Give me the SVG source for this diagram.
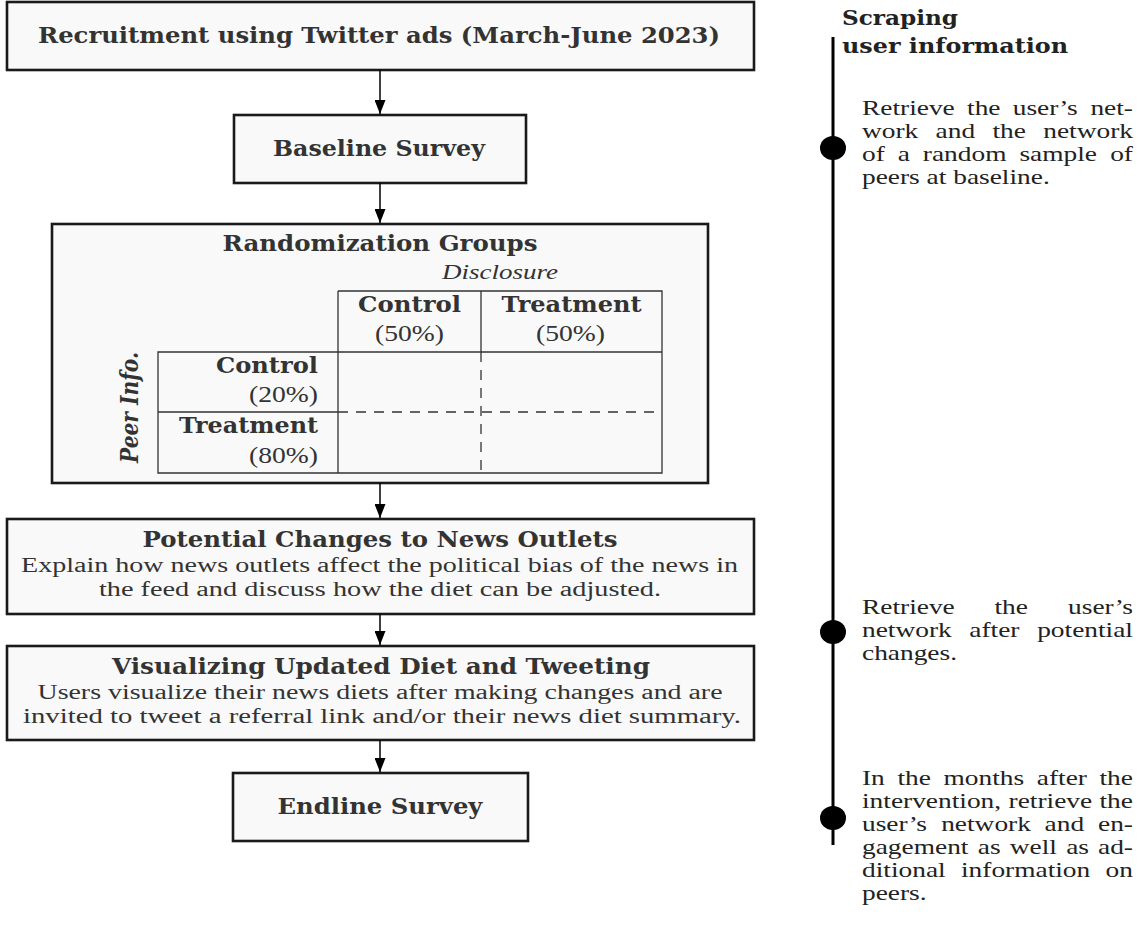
<svg xmlns="http://www.w3.org/2000/svg" width="1138" height="952" viewBox="0 0 1138 952">
<defs>
<marker id="arr" viewBox="0 -5.5 14 11" refX="14" refY="0" markerWidth="14" markerHeight="11" markerUnits="userSpaceOnUse" orient="auto">
<path d="M0,-5.5 L14,0 L0,5.5 z" fill="#000"/>
</marker>
<style>
.box{fill:#f9f9f9;stroke:#1a1a1a;stroke-width:2.6}
.bx{font-family:"DejaVu Serif",serif;font-weight:bold;font-size:22px;fill:#333}
.ttl{font-family:"DejaVu Serif",serif;font-weight:bold;font-size:22px;fill:#333}
.rm{font-family:"Liberation Serif",serif;font-size:20px;fill:#333}
.pc{font-family:"Liberation Serif",serif;font-size:23px;fill:#333}
.it{font-family:"Liberation Serif",serif;font-style:italic;font-size:20px;fill:#333}
.tl{fill:none;stroke:#333;stroke-width:1.3}
.ds{fill:none;stroke:#333;stroke-width:1.3;stroke-dasharray:10 8}
.con{fill:none;stroke:#000;stroke-width:1.5;marker-end:url(#arr)}
.rc{font-family:"Liberation Serif",serif;font-size:20px;fill:#222}
.rh{font-family:"DejaVu Serif",serif;font-weight:bold;font-size:21px;fill:#222}
</style>
</defs>
<rect width="1138" height="952" fill="#fff"/>

<g id="recruitment">
<rect class="box" x="7" y="2" width="747" height="68"/>
<text class="bx" x="379" y="43" text-anchor="middle" textLength="682" lengthAdjust="spacingAndGlyphs">Recruitment using Twitter ads (March-June 2023)</text>
</g>

<g id="baseline">
<rect class="box" x="234" y="115" width="292" height="68"/>
<text class="bx" x="379" y="156" text-anchor="middle" textLength="212" lengthAdjust="spacingAndGlyphs">Baseline Survey</text>
</g>

<g id="randomization">
<rect class="box" x="52" y="224" width="656" height="259"/>
<text class="ttl" x="380" y="251" text-anchor="middle" textLength="315" lengthAdjust="spacingAndGlyphs">Randomization Groups</text>
<text class="it" x="500" y="279" text-anchor="middle" textLength="116" lengthAdjust="spacingAndGlyphs">Disclosure</text>
<path class="tl" d="M338,291 H662 V473 H158 V352 H662 M338,291 V473 M481,291 V352 M158,412 H338"/>
<path class="ds" d="M481,352 V473 M338,412 H662"/>
<text class="bx" x="409.5" y="312" text-anchor="middle" textLength="103" lengthAdjust="spacingAndGlyphs">Control</text>
<text class="pc" x="409.5" y="341" text-anchor="middle" textLength="69" lengthAdjust="spacingAndGlyphs">(50%)</text>
<text class="bx" x="571.5" y="312" text-anchor="middle" textLength="140" lengthAdjust="spacingAndGlyphs">Treatment</text>
<text class="pc" x="570.5" y="341" text-anchor="middle" textLength="69" lengthAdjust="spacingAndGlyphs">(50%)</text>
<text class="bx" x="318" y="373" text-anchor="end" textLength="102" lengthAdjust="spacingAndGlyphs">Control</text>
<text class="pc" x="318" y="402" text-anchor="end" textLength="69" lengthAdjust="spacingAndGlyphs">(20%)</text>
<text class="bx" x="318" y="433" text-anchor="end" textLength="139" lengthAdjust="spacingAndGlyphs">Treatment</text>
<text class="pc" x="318" y="463" text-anchor="end" textLength="69" lengthAdjust="spacingAndGlyphs">(80%)</text>
<text class="bx" style="font-style:italic;font-size:25px" transform="translate(138 407.5) rotate(-90)" text-anchor="middle" textLength="111" lengthAdjust="spacingAndGlyphs">Peer Info.</text>
</g>

<g id="potential">
<rect class="box" x="7" y="519" width="747" height="95"/>
<text class="ttl" x="380" y="547" text-anchor="middle" textLength="475" lengthAdjust="spacingAndGlyphs">Potential Changes to News Outlets</text>
<text class="rm" x="379.5" y="572" text-anchor="middle" textLength="717" lengthAdjust="spacingAndGlyphs">Explain how news outlets affect the political bias of the news in</text>
<text class="rm" x="380" y="596" text-anchor="middle" textLength="562" lengthAdjust="spacingAndGlyphs">the feed and discuss how the diet can be adjusted.</text>
</g>

<g id="visualizing">
<rect class="box" x="7" y="646" width="747" height="94"/>
<text class="ttl" x="381" y="674" text-anchor="middle" textLength="538" lengthAdjust="spacingAndGlyphs">Visualizing Updated Diet and Tweeting</text>
<text class="rm" x="380" y="699" text-anchor="middle" textLength="685" lengthAdjust="spacingAndGlyphs">Users visualize their news diets after making changes and are</text>
<text class="rm" x="382" y="723" text-anchor="middle" textLength="718" lengthAdjust="spacingAndGlyphs">invited to tweet a referral link and/or their news diet summary.</text>
</g>

<g id="endline">
<rect class="box" x="233" y="773" width="295" height="68"/>
<text class="bx" x="380" y="814" text-anchor="middle" textLength="205" lengthAdjust="spacingAndGlyphs">Endline Survey</text>
</g>

<g id="connectors">
<line class="con" x1="380" y1="70" x2="380" y2="114"/>
<line class="con" x1="380" y1="183" x2="380" y2="223"/>
<line class="con" x1="380" y1="483" x2="380" y2="518"/>
<line class="con" x1="380" y1="614" x2="380" y2="645"/>
<line class="con" x1="380" y1="740" x2="380" y2="772"/>
</g>

<g id="timeline">
<line x1="833" y1="37" x2="833" y2="845" stroke="#000" stroke-width="3"/>
<ellipse cx="833" cy="148" rx="13" ry="12" fill="#000"/>
<ellipse cx="833" cy="632" rx="13" ry="12" fill="#000"/>
<ellipse cx="833" cy="818" rx="13" ry="12" fill="#000"/>
<text class="rh" x="842" y="25" textLength="116" lengthAdjust="spacingAndGlyphs">Scraping</text>
<text class="rh" x="842" y="53" textLength="226" lengthAdjust="spacingAndGlyphs">user information</text>
</g>

<g id="note1" class="rc" transform="translate(862 0) scale(1.37 1)">
<text y="115"><tspan x="0">Retrieve</tspan><tspan x="76.7">the</tspan><tspan x="110">user’s</tspan></text>
<text y="115" x="197.8" text-anchor="end">net-</text>
<text y="138"><tspan x="0">work</tspan><tspan x="53.7">and</tspan><tspan x="95.2">the</tspan></text>
<text y="138" x="197.8" text-anchor="end">network</text>
<text y="161"><tspan x="0">of</tspan><tspan x="26.1">a</tspan><tspan x="44.4">random</tspan><tspan x="114.9">sample</tspan></text>
<text y="161" x="197.8" text-anchor="end">of</text>
<text y="184" x="0">peers at baseline.</text>
</g>

<g id="note2" class="rc" transform="translate(862 0) scale(1.37 1)">
<text y="614"><tspan x="0">Retrieve</tspan><tspan x="96.7">the</tspan></text>
<text y="614" x="197.8" text-anchor="end">user’s</text>
<text y="637"><tspan x="0">network</tspan><tspan x="78.35">after</tspan></text>
<text y="637" x="197.8" text-anchor="end">potential</text>
<text y="660" x="0">changes.</text>
</g>

<g id="note3" class="rc" transform="translate(862 0) scale(1.37 1)">
<text y="785"><tspan x="0">In</tspan><tspan x="25.9">the</tspan><tspan x="59.5">months</tspan><tspan x="127.6">after</tspan></text>
<text y="785" x="197.8" text-anchor="end">the</text>
<text y="808"><tspan x="0">intervention,</tspan><tspan x="107">retrieve</tspan></text>
<text y="808" x="197.8" text-anchor="end">the</text>
<text y="831"><tspan x="0">user’s</tspan><tspan x="57.8">network</tspan><tspan x="133.3">and</tspan></text>
<text y="831" x="197.8" text-anchor="end">en-</text>
<text y="854"><tspan x="0">gagement</tspan><tspan x="84.5">as</tspan><tspan x="107.9">well</tspan><tspan x="149">as</tspan></text>
<text y="854" x="197.8" text-anchor="end">ad-</text>
<text y="877"><tspan x="0">ditional</tspan><tspan x="72.25">information</tspan></text>
<text y="877" x="197.8" text-anchor="end">on</text>
<text y="900" x="0">peers.</text>
</g>
</svg>
